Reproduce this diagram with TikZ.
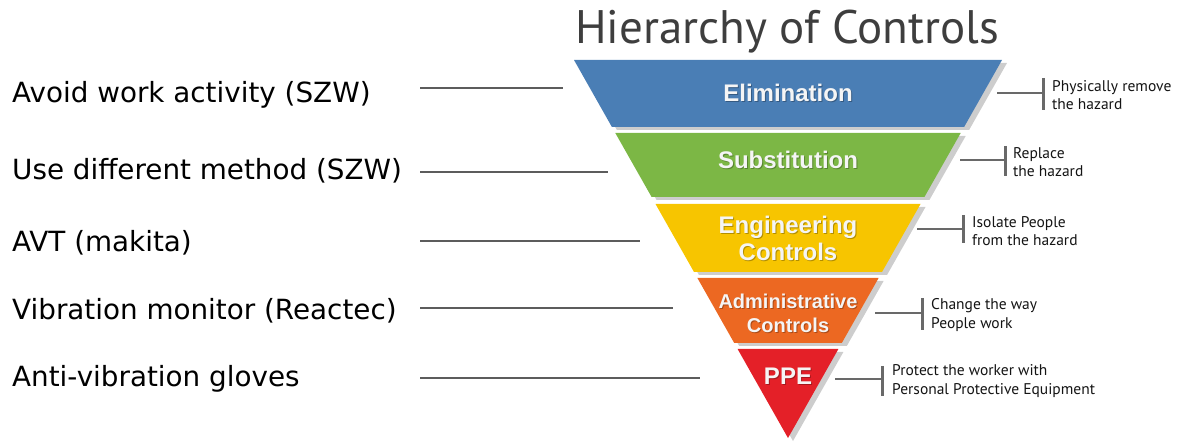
\documentclass[tikz,border=0pt]{standalone}
\usepackage{fontspec}
\setmainfont{DejaVu Sans}
\newfontfamily\headfont{PT Sans}
\newfontfamily\bandfont{Liberation Sans}

\definecolor{elimblue}{RGB}{74,126,181}
\definecolor{subgreen}{RGB}{124,183,69}
\definecolor{engyellow}{RGB}{247,197,0}
\definecolor{adminorange}{RGB}{236,104,34}
\definecolor{ppered}{RGB}{228,32,40}
\definecolor{leadgray}{RGB}{92,92,92}
\definecolor{bracketgray}{RGB}{105,105,105}
\definecolor{titlegray}{RGB}{62,62,62}
\definecolor{shadowgray}{RGB}{205,205,205}

\begin{document}
\begin{tikzpicture}[x=1pt,y=-1pt,
  lefttext/.style={anchor=base west, inner sep=0pt, text=black,
    font=\fontsize{27.8}{32}\selectfont},
  leader/.style={draw=leadgray, line width=2.4pt},
  notetext/.style={anchor=west, inner sep=0pt, align=left, text=black!92,
    font=\headfont\fontsize{15.5}{18.5}\selectfont},
  tick/.style={draw=bracketgray, line width=2pt},
  bar/.style={draw=bracketgray, line width=3pt},
  bandtext/.style={inner sep=0pt, align=center, text=white!96!black,
    font=\bandfont\bfseries\fontsize{24}{27}\selectfont},
  bandshade/.style={bandtext, text=black, opacity=0.28},
  bandshadow/.style={fill=shadowgray, draw=none},
]
\useasboundingbox (0,0) rectangle (1178,443);

% title
\node[anchor=base, inner sep=0pt, text=titlegray,
  font=\headfont\fontsize{47}{54}\selectfont] (title) at (787,44) {Hierarchy of Controls};

% soft shadow on the right of each band
\begin{scope}[shift={(5,3)}]
  \fill[bandshadow] (574,60) -- (1002,60) -- (964.1,127) -- (611.9,127) -- cycle;
  \fill[bandshadow] (615.3,133) -- (960.7,133) -- (924.4,197) -- (651.6,197) -- cycle;
  \fill[bandshadow] (655.5,204) -- (920.5,204) -- (882,272) -- (694,272) -- cycle;
  \fill[bandshadow] (697.4,278) -- (878.6,278) -- (841.8,343) -- (734.2,343) -- cycle;
  \fill[bandshadow] (737.6,349) -- (838.4,349) -- (788,438) -- cycle;
\end{scope}

% bands of the inverted pyramid
\fill[elimblue]    (574,60) -- (1002,60) -- (964.1,127) -- (611.9,127) -- cycle;
\fill[subgreen]    (615.3,133) -- (960.7,133) -- (924.4,197) -- (651.6,197) -- cycle;
\fill[engyellow]   (655.5,204) -- (920.5,204) -- (882,272) -- (694,272) -- cycle;
\fill[adminorange] (697.4,278) -- (878.6,278) -- (841.8,343) -- (734.2,343) -- cycle;
\fill[ppered]      (737.6,349) -- (838.4,349) -- (788,438) -- cycle;

% band labels (a faint dark copy under each for the embossed look)
\node[bandshade] at (789,94) {Elimination};
\node[bandtext] (elim) at (788,93) {Elimination};
\node[bandshade] at (789,161) {Substitution};
\node[bandtext] (subst) at (788,160) {Substitution};
\node[bandshade] at (789,239) {Engineering\\Controls};
\node[bandtext] (eng) at (788,238) {Engineering\\Controls};
\node[bandshade, font=\bandfont\bfseries\fontsize{20}{24}\selectfont] at (789,314) {Administrative\\Controls};
\node[bandtext, font=\bandfont\bfseries\fontsize{20}{24}\selectfont] (admin) at (788,313) {Administrative\\Controls};
\node[bandshade] at (789,377) {PPE};
\node[bandtext] (ppe) at (788,376) {PPE};

% measures on the left
\node[lefttext] (m1) at (12,103) {Avoid work activity (SZW)};
\node[lefttext] (m2) at (12,180) {Use different method (SZW)};
\node[lefttext] (m3) at (12,252) {AVT (makita)};
\node[lefttext] (m4) at (12,320) {Vibration monitor (Reactec)};
\node[lefttext] (m5) at (12,387) {Anti-vibration gloves};

\coordinate (l1a) at (420,88);  \coordinate (l1b) at (563,88);
\coordinate (l2a) at (420,172); \coordinate (l2b) at (608,172);
\coordinate (l3a) at (420,241); \coordinate (l3b) at (640,241);
\coordinate (l4a) at (420,308); \coordinate (l4b) at (673,308);
\coordinate (l5a) at (420,378); \coordinate (l5b) at (700,378);
\draw[leader] (l1a) -- (l1b);
\draw[leader] (l2a) -- (l2b);
\draw[leader] (l3a) -- (l3b);
\draw[leader] (l4a) -- (l4b);
\draw[leader] (l5a) -- (l5b);

% notes on the right, each with a bracket
\coordinate (r1a) at (997,93);  \coordinate (r1b) at (1043,93);
\draw[tick] (r1a) -- (r1b);
\draw[bar] (1043,78) -- (1043,110);
\node[notetext] (n1) at (1052,95) {Physically remove\\the hazard};

\coordinate (r2a) at (960,160); \coordinate (r2b) at (1005,160);
\draw[tick] (r2a) -- (r2b);
\draw[bar] (1005,146) -- (1005,176);
\node[notetext] (n2) at (1013,162) {Replace\\the hazard};

\coordinate (r3a) at (917,229); \coordinate (r3b) at (963,229);
\draw[tick] (r3a) -- (r3b);
\draw[bar] (963,215) -- (963,243);
\node[notetext] (n3) at (972,231) {Isolate People\\from the hazard};

\coordinate (r4a) at (875,313); \coordinate (r4b) at (922,313);
\draw[tick] (r4a) -- (r4b);
\draw[bar] (922,298) -- (922,330);
\node[notetext] (n4) at (931,315) {Change the way\\People work};

\coordinate (r5a) at (835,379); \coordinate (r5b) at (882,379);
\draw[tick] (r5a) -- (r5b);
\draw[bar] (882,366) -- (882,396);
\node[notetext] (n5) at (892,381) {Protect the worker with\\Personal Protective Equipment};
\end{tikzpicture}
\end{document}
